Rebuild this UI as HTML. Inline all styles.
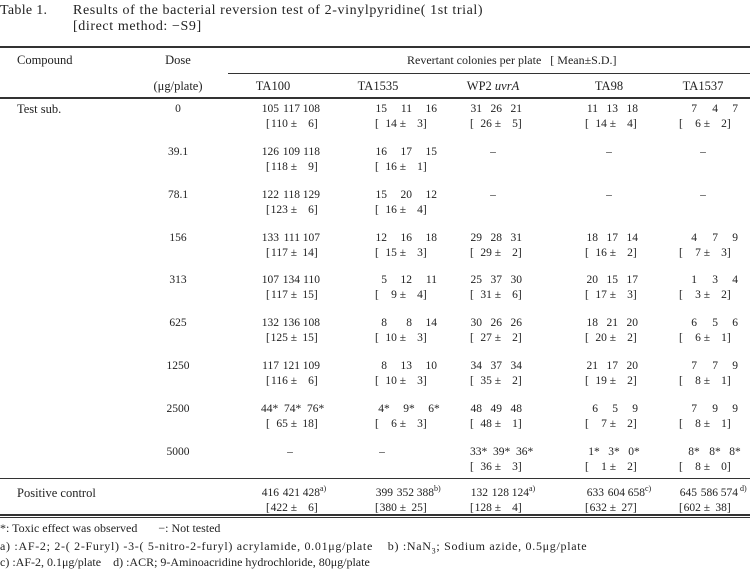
<!DOCTYPE html>
<html><head><meta charset="utf-8"><style>
body{margin:0;width:750px;height:571px;background:#fff;position:relative;overflow:hidden;font-family:"Liberation Serif",serif;color:#222;font-size:11.5px}
.a{position:absolute;white-space:pre;line-height:14px}
.c{transform:translateX(-50%)}
.L{font-size:12.5px}
.hl{position:absolute;background:#333;height:1px}
.n{display:inline-block;text-align:right;position:relative}
.n i{position:absolute;left:100%;font-style:normal}
.m{display:inline-block;width:18px;text-align:right}
.s{display:inline-block;width:14px;text-align:right}
sup{font-size:8px;vertical-align:5px;line-height:0}
.f{font-size:12px}
</style></head><body>
<div class="a" style="left:0;top:4px;font-size:14px;letter-spacing:0.3px">Table 1.</div>
<div class="a" style="left:73px;top:4px;font-size:14px;letter-spacing:0.6px">Results of the bacterial reversion test of 2-vinylpyridine( 1st trial)</div>
<div class="a" style="left:73px;top:20px;font-size:14px;letter-spacing:0.6px">[direct method: −S9]</div>

<div class="hl" style="left:0;width:750px;top:46px;height:2px"></div>
<div class="hl" style="left:228px;width:522px;top:73px"></div>
<div class="hl" style="left:0;width:750px;top:97px;height:2px"></div>
<div class="hl" style="left:0;width:750px;top:478px"></div>
<div class="hl" style="left:0;width:750px;top:514px;height:2px"></div>
<div class="hl" style="left:0;width:750px;top:517px"></div>

<div class="a L" style="left:17px;top:53px">Compound</div>
<div class="a c L" style="left:178px;top:53px">Dose</div>
<div class="a c L" style="left:178px;top:79px">(μg/plate)</div>
<div class="a" style="left:407px;top:53px;font-size:12px">Revertant colonies per plate   [ Mean±S.D.]</div>
<div class="a c L" style="left:273px;top:79px">TA100</div>
<div class="a c L" style="left:378px;top:79px">TA1535</div>
<div class="a c L" style="left:493px;top:79px">WP2 <i>uvrA</i></div>
<div class="a c L" style="left:609px;top:79px">TA98</div>
<div class="a c L" style="left:703px;top:79px">TA1537</div>

<div class="a L" style="left:17px;top:102px">Test sub.</div>
<div class="a L" style="left:17px;top:486px">Positive control</div>

<div class="a c" style="left:178px;top:102px">0</div>
<div class="a c" style="left:178px;top:145px">39.1</div>
<div class="a c" style="left:178px;top:188px">78.1</div>
<div class="a c" style="left:178px;top:231px">156</div>
<div class="a c" style="left:178px;top:273px">313</div>
<div class="a c" style="left:178px;top:316px">625</div>
<div class="a c" style="left:178px;top:359px">1250</div>
<div class="a c" style="left:178px;top:402px">2500</div>
<div class="a c" style="left:178px;top:445px">5000</div>

<!-- TA100 -->
<div class="a" style="left:260px;top:102px"><span class="n" style="width:19px">105</span><span class="n" style="width:21px">117</span><span class="n" style="width:20px">108</span></div>
<div class="a" style="left:266px;top:117px">[<span class="m">110</span> ± <span class="s">6</span>]</div>
<div class="a" style="left:260px;top:145px"><span class="n" style="width:19px">126</span><span class="n" style="width:21px">109</span><span class="n" style="width:20px">118</span></div>
<div class="a" style="left:266px;top:160px">[<span class="m">118</span> ± <span class="s">9</span>]</div>
<div class="a" style="left:260px;top:188px"><span class="n" style="width:19px">122</span><span class="n" style="width:21px">118</span><span class="n" style="width:20px">129</span></div>
<div class="a" style="left:266px;top:203px">[<span class="m">123</span> ± <span class="s">6</span>]</div>
<div class="a" style="left:260px;top:231px"><span class="n" style="width:19px">133</span><span class="n" style="width:21px">111</span><span class="n" style="width:20px">107</span></div>
<div class="a" style="left:266px;top:246px">[<span class="m">117</span> ± <span class="s">14</span>]</div>
<div class="a" style="left:260px;top:273px"><span class="n" style="width:19px">107</span><span class="n" style="width:21px">134</span><span class="n" style="width:20px">110</span></div>
<div class="a" style="left:266px;top:288px">[<span class="m">117</span> ± <span class="s">15</span>]</div>
<div class="a" style="left:260px;top:316px"><span class="n" style="width:19px">132</span><span class="n" style="width:21px">136</span><span class="n" style="width:20px">108</span></div>
<div class="a" style="left:266px;top:331px">[<span class="m">125</span> ± <span class="s">15</span>]</div>
<div class="a" style="left:260px;top:359px"><span class="n" style="width:19px">117</span><span class="n" style="width:21px">121</span><span class="n" style="width:20px">109</span></div>
<div class="a" style="left:266px;top:374px">[<span class="m">116</span> ± <span class="s">6</span>]</div>
<div class="a" style="left:261px;top:402px">44*  74*  76*</div>
<div class="a" style="left:266px;top:417px">[<span class="m">65</span> ± <span class="s">18</span>]</div>
<div class="a c" style="left:290px;top:445px">–</div>
<div class="a" style="left:260px;top:486px"><span class="n" style="width:19px">416</span><span class="n" style="width:21px">421</span><span class="n" style="width:20px">428<i><sup>a)</sup></i></span></div>
<div class="a" style="left:266px;top:501px">[<span class="m">422</span> ± <span class="s">6</span>]</div>

<!-- TA1535 -->
<div class="a" style="left:362px;top:102px"><span class="n" style="width:25px">15</span><span class="n" style="width:25px">11</span><span class="n" style="width:25px">16</span></div>
<div class="a" style="left:375px;top:117px">[<span class="m">14</span> ± <span class="s">3</span>]</div>
<div class="a" style="left:362px;top:145px"><span class="n" style="width:25px">16</span><span class="n" style="width:25px">17</span><span class="n" style="width:25px">15</span></div>
<div class="a" style="left:375px;top:160px">[<span class="m">16</span> ± <span class="s">1</span>]</div>
<div class="a" style="left:362px;top:188px"><span class="n" style="width:25px">15</span><span class="n" style="width:25px">20</span><span class="n" style="width:25px">12</span></div>
<div class="a" style="left:375px;top:203px">[<span class="m">16</span> ± <span class="s">4</span>]</div>
<div class="a" style="left:362px;top:231px"><span class="n" style="width:25px">12</span><span class="n" style="width:25px">16</span><span class="n" style="width:25px">18</span></div>
<div class="a" style="left:375px;top:246px">[<span class="m">15</span> ± <span class="s">3</span>]</div>
<div class="a" style="left:362px;top:273px"><span class="n" style="width:25px">5</span><span class="n" style="width:25px">12</span><span class="n" style="width:25px">11</span></div>
<div class="a" style="left:375px;top:288px">[<span class="m">9</span> ± <span class="s">4</span>]</div>
<div class="a" style="left:362px;top:316px"><span class="n" style="width:25px">8</span><span class="n" style="width:25px">8</span><span class="n" style="width:25px">14</span></div>
<div class="a" style="left:375px;top:331px">[<span class="m">10</span> ± <span class="s">3</span>]</div>
<div class="a" style="left:362px;top:359px"><span class="n" style="width:25px">8</span><span class="n" style="width:25px">13</span><span class="n" style="width:25px">10</span></div>
<div class="a" style="left:375px;top:374px">[<span class="m">10</span> ± <span class="s">3</span>]</div>
<div class="a" style="left:362px;top:402px"><span class="n" style="width:22px">4<i>*</i></span><span class="n" style="width:25px">9<i>*</i></span><span class="n" style="width:25px">6<i>*</i></span></div>
<div class="a" style="left:375px;top:417px">[<span class="m">6</span> ± <span class="s">3</span>]</div>
<div class="a c" style="left:382px;top:445px">–</div>
<div class="a" style="left:374px;top:486px"><span class="n" style="width:19px">399</span><span class="n" style="width:21px">352</span><span class="n" style="width:20px">388<i><sup>b)</sup></i></span></div>
<div class="a" style="left:375px;top:501px">[<span class="m">380</span> ± <span class="s">25</span>]</div>

<!-- WP2 -->
<div class="a" style="left:460px;top:102px"><span class="n" style="width:22px">31</span><span class="n" style="width:20px">26</span><span class="n" style="width:20px">21</span></div>
<div class="a" style="left:470px;top:117px">[<span class="m">26</span> ± <span class="s">5</span>]</div>
<div class="a c" style="left:493px;top:145px">–</div>
<div class="a c" style="left:493px;top:188px">–</div>
<div class="a" style="left:460px;top:231px"><span class="n" style="width:22px">29</span><span class="n" style="width:20px">28</span><span class="n" style="width:20px">31</span></div>
<div class="a" style="left:470px;top:246px">[<span class="m">29</span> ± <span class="s">2</span>]</div>
<div class="a" style="left:460px;top:273px"><span class="n" style="width:22px">25</span><span class="n" style="width:20px">37</span><span class="n" style="width:20px">30</span></div>
<div class="a" style="left:470px;top:288px">[<span class="m">31</span> ± <span class="s">6</span>]</div>
<div class="a" style="left:460px;top:316px"><span class="n" style="width:22px">30</span><span class="n" style="width:20px">26</span><span class="n" style="width:20px">26</span></div>
<div class="a" style="left:470px;top:331px">[<span class="m">27</span> ± <span class="s">2</span>]</div>
<div class="a" style="left:460px;top:359px"><span class="n" style="width:22px">34</span><span class="n" style="width:20px">37</span><span class="n" style="width:20px">34</span></div>
<div class="a" style="left:470px;top:374px">[<span class="m">35</span> ± <span class="s">2</span>]</div>
<div class="a" style="left:460px;top:402px"><span class="n" style="width:22px">48</span><span class="n" style="width:20px">49</span><span class="n" style="width:20px">48</span></div>
<div class="a" style="left:470px;top:417px">[<span class="m">48</span> ± <span class="s">1</span>]</div>
<div class="a" style="left:470px;top:445px">33*  39*  36*</div>
<div class="a" style="left:470px;top:460px">[<span class="m">36</span> ± <span class="s">3</span>]</div>
<div class="a" style="left:469px;top:486px"><span class="n" style="width:19px">132</span><span class="n" style="width:21px">128</span><span class="n" style="width:20px">124<i><sup>a)</sup></i></span></div>
<div class="a" style="left:470px;top:501px">[<span class="m">128</span> ± <span class="s">4</span>]</div>

<!-- TA98 -->
<div class="a" style="left:576px;top:102px"><span class="n" style="width:22px">11</span><span class="n" style="width:20px">13</span><span class="n" style="width:20px">18</span></div>
<div class="a" style="left:585px;top:117px">[<span class="m">14</span> ± <span class="s">4</span>]</div>
<div class="a c" style="left:609px;top:145px">–</div>
<div class="a c" style="left:609px;top:188px">–</div>
<div class="a" style="left:576px;top:231px"><span class="n" style="width:22px">18</span><span class="n" style="width:20px">17</span><span class="n" style="width:20px">14</span></div>
<div class="a" style="left:585px;top:246px">[<span class="m">16</span> ± <span class="s">2</span>]</div>
<div class="a" style="left:576px;top:273px"><span class="n" style="width:22px">20</span><span class="n" style="width:20px">15</span><span class="n" style="width:20px">17</span></div>
<div class="a" style="left:585px;top:288px">[<span class="m">17</span> ± <span class="s">3</span>]</div>
<div class="a" style="left:576px;top:316px"><span class="n" style="width:22px">18</span><span class="n" style="width:20px">21</span><span class="n" style="width:20px">20</span></div>
<div class="a" style="left:585px;top:331px">[<span class="m">20</span> ± <span class="s">2</span>]</div>
<div class="a" style="left:576px;top:359px"><span class="n" style="width:22px">21</span><span class="n" style="width:20px">17</span><span class="n" style="width:20px">20</span></div>
<div class="a" style="left:585px;top:374px">[<span class="m">19</span> ± <span class="s">2</span>]</div>
<div class="a" style="left:576px;top:402px"><span class="n" style="width:22px">6</span><span class="n" style="width:20px">5</span><span class="n" style="width:20px">9</span></div>
<div class="a" style="left:585px;top:417px">[<span class="m">7</span> ± <span class="s">2</span>]</div>
<div class="a" style="left:576px;top:445px"><span class="n" style="width:18px">1<i>*</i></span><span class="n" style="width:20px">3<i>*</i></span><span class="n" style="width:20px">0<i>*</i></span></div>
<div class="a" style="left:585px;top:460px">[<span class="m">1</span> ± <span class="s">2</span>]</div>
<div class="a" style="left:585px;top:486px"><span class="n" style="width:19px">633</span><span class="n" style="width:21px">604</span><span class="n" style="width:20px">658<i><sup>c)</sup></i></span></div>
<div class="a" style="left:585px;top:501px">[<span class="m">632</span> ± <span class="s">27</span>]</div>

<!-- TA1537 -->
<div class="a" style="left:676px;top:102px"><span class="n" style="width:21px">7</span><span class="n" style="width:21px">4</span><span class="n" style="width:20px">7</span></div>
<div class="a" style="left:679px;top:117px">[<span class="m">6</span> ± <span class="s">2</span>]</div>
<div class="a c" style="left:703px;top:145px">–</div>
<div class="a c" style="left:703px;top:188px">–</div>
<div class="a" style="left:676px;top:231px"><span class="n" style="width:21px">4</span><span class="n" style="width:21px">7</span><span class="n" style="width:20px">9</span></div>
<div class="a" style="left:679px;top:246px">[<span class="m">7</span> ± <span class="s">3</span>]</div>
<div class="a" style="left:676px;top:273px"><span class="n" style="width:21px">1</span><span class="n" style="width:21px">3</span><span class="n" style="width:20px">4</span></div>
<div class="a" style="left:679px;top:288px">[<span class="m">3</span> ± <span class="s">2</span>]</div>
<div class="a" style="left:676px;top:316px"><span class="n" style="width:21px">6</span><span class="n" style="width:21px">5</span><span class="n" style="width:20px">6</span></div>
<div class="a" style="left:679px;top:331px">[<span class="m">6</span> ± <span class="s">1</span>]</div>
<div class="a" style="left:676px;top:359px"><span class="n" style="width:21px">7</span><span class="n" style="width:21px">7</span><span class="n" style="width:20px">9</span></div>
<div class="a" style="left:679px;top:374px">[<span class="m">8</span> ± <span class="s">1</span>]</div>
<div class="a" style="left:676px;top:402px"><span class="n" style="width:21px">7</span><span class="n" style="width:21px">9</span><span class="n" style="width:20px">9</span></div>
<div class="a" style="left:679px;top:417px">[<span class="m">8</span> ± <span class="s">1</span>]</div>
<div class="a" style="left:676px;top:445px"><span class="n" style="width:18px">8<i>*</i></span><span class="n" style="width:21px">8<i>*</i></span><span class="n" style="width:20px">8<i>*</i></span></div>
<div class="a" style="left:679px;top:460px">[<span class="m">8</span> ± <span class="s">0</span>]</div>
<div class="a" style="left:678px;top:486px"><span class="n" style="width:19px">645</span><span class="n" style="width:21px">586</span><span class="n" style="width:20px">574<i><sup> d)</sup></i></span></div>
<div class="a" style="left:679px;top:501px">[<span class="m">602</span> ± <span class="s">38</span>]</div>

<div class="a f" style="left:0;top:521px">*: Toxic effect was observed       −: Not tested</div>
<div class="a f" style="left:0;top:539px;letter-spacing:0.7px">a) :AF-2; 2-( 2-Furyl) -3-( 5-nitro-2-furyl) acrylamide, 0.01μg/plate    b) :NaN<sub style="font-size:8px">3</sub>; Sodium azide, 0.5μg/plate</div>
<div class="a f" style="left:0;top:555px">c) :AF-2, 0.1μg/plate    d) :ACR; 9-Aminoacridine hydrochloride, 80μg/plate</div>
</body></html>
